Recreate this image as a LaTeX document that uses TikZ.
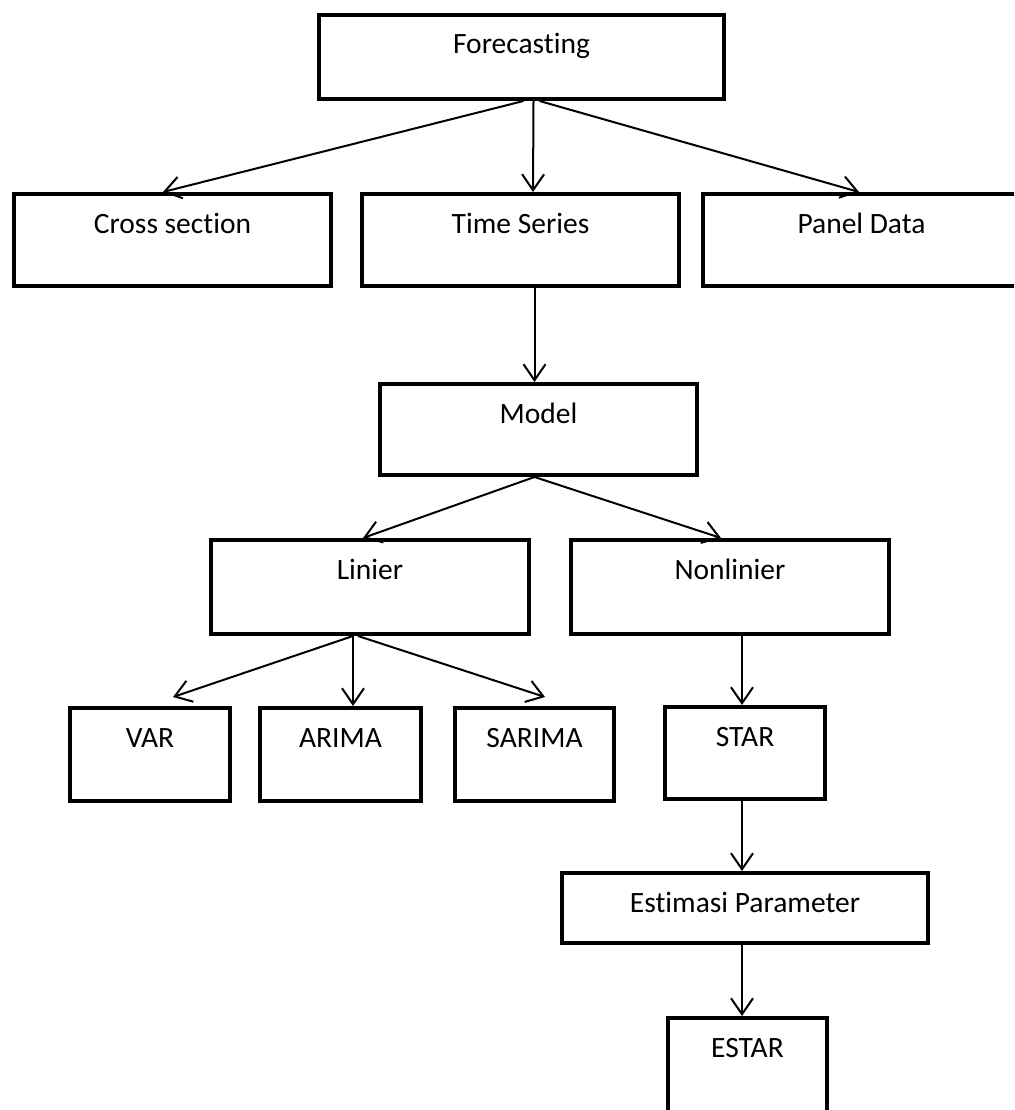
\documentclass[tikz,border=0pt]{standalone}
\usepackage{fontspec}
\setmainfont{Carlito}[Ligatures=NoCommon]
\usetikzlibrary{arrows.meta}

\begin{document}
\begin{tikzpicture}[x=1pt, y=-1pt,
    box/.style={draw=black, line width=4pt, inner sep=0pt, text height=39pt, anchor=north, font=\fontsize{29.5}{35}\selectfont},
    link/.style={black, line width=2pt, -{Straight Barb[length=16pt, width=22pt]}}]
    \useasboundingbox (0,0) rectangle (1014,1110);
    \clip (0,0) rectangle (1014,1110);
    % top level
    \node[box, minimum width=405pt, text depth=45pt] (fc) at (521.5,13) {Forecasting};
    \node[box, minimum width=317pt, text depth=53pt] (cs) at (172.5,192) {Cross section};
    \node[box, minimum width=317pt, text depth=53pt] (ts) at (520.5,192) {Time Series};
    \node[box, minimum width=317pt, text depth=53pt] (pd) at (861.5,192) {Panel Data};
    \node[box, minimum width=317pt, text depth=52pt] (md) at (538.5,382) {Model};
    \node[box, minimum width=318pt, text depth=55pt] (li) at (370,538) {Linier};
    \node[box, minimum width=318pt, text depth=55pt] (nl) at (730,538) {Nonlinier};
    % linear and nonlinear models
    \node[box, minimum width=160pt, text depth=54pt] (var) at (150,706) {VAR};
    \node[box, minimum width=161pt, text depth=54pt] (ari) at (340.5,706) {ARIMA};
    \node[box, minimum width=159pt, text depth=54pt] (sar) at (534.5,706) {SARIMA};
    \node[box, minimum width=160pt, text depth=53pt] (star) at (745,705) {STAR};
    \node[box, minimum width=366pt, text depth=31pt] (est) at (745,871) {Estimasi Parameter};
    \node[box, minimum width=159pt, text depth=71pt] (estar) at (747.5,1016) {ESTAR};
    % arrows
    \draw[link] ([xshift=2pt]fc.south) -- ([xshift=-9.5pt]cs.north);
    \draw[link] ([xshift=12pt]fc.south) -- ([xshift=12.5pt]ts.north);
    \draw[link] ([xshift=18pt]fc.south) -- ([xshift=-2.5pt]pd.north);
    \draw[link] ([xshift=14pt]ts.south) -- ([xshift=-4pt]md.north);
    \draw[link] ([xshift=-4pt]md.south) -- ([xshift=-7pt]li.north);
    \draw[link] ([xshift=-4pt]md.south) -- ([xshift=-9pt]nl.north);
    \draw[link] ([xshift=-17pt]li.south) -- ([xshift=23pt, yshift=9pt]var.north);
    \draw[link] ([xshift=-17pt]li.south) -- ([xshift=12.5pt]ari.north);
    \draw[link] ([xshift=-12pt]li.south) -- ([xshift=10.5pt, yshift=9pt]sar.north);
    \draw[link] ([xshift=12pt]nl.south) -- ([xshift=-3pt]star.north);
    \draw[link] ([xshift=-3pt]star.south) -- ([xshift=-3pt]est.north);
    \draw[link] ([xshift=-3pt]est.south) -- ([xshift=-5.5pt]estar.north);
\end{tikzpicture}
\end{document}
